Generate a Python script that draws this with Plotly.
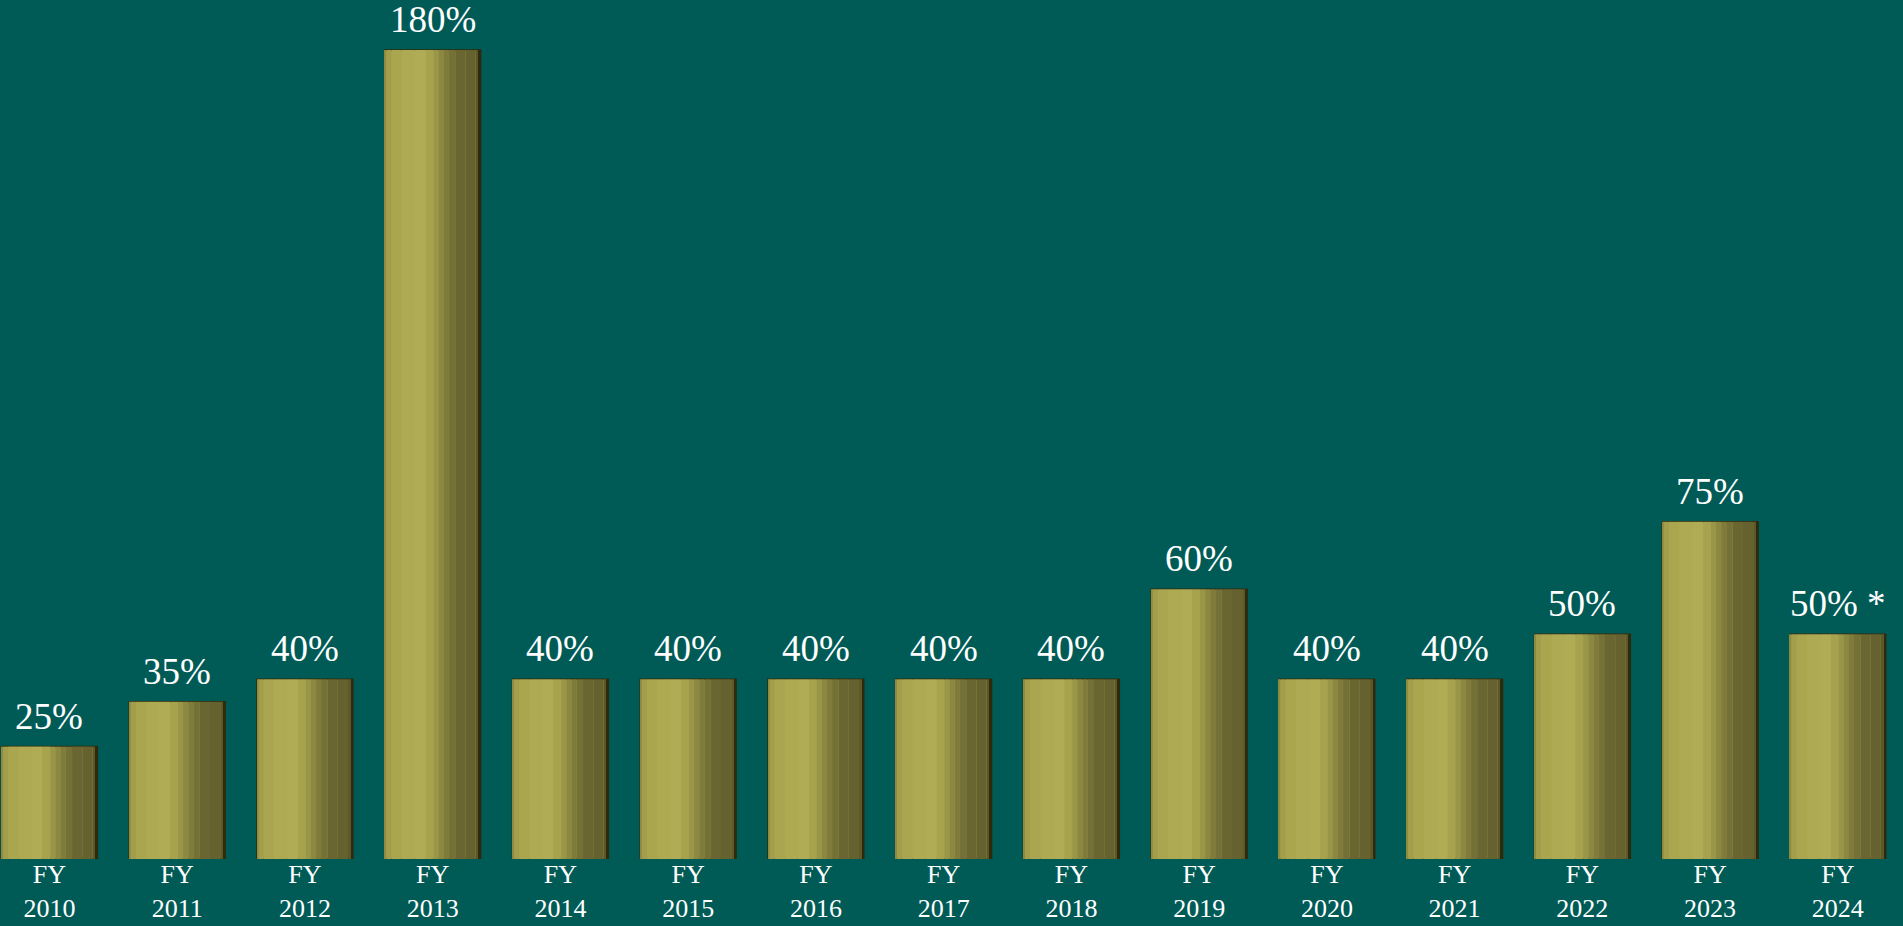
import plotly.graph_objects as go

years = ["2010", "2011", "2012", "2013", "2014", "2015", "2016", "2017",
         "2018", "2019", "2020", "2021", "2022", "2023", "2024"]
values = [25, 35, 40, 180, 40, 40, 40, 40, 40, 60, 40, 40, 50, 75, 50]
value_labels = ["25%", "35%", "40%", "180%", "40%", "40%", "40%", "40%",
                "40%", "60%", "40%", "40%", "50%", "75%", "50% *"]
tick_labels = ["FY<br>" + y for y in years]

BG = "#005B57"
FONT = "Liberation Serif, Times New Roman, serif"
BAR_W = 0.75

fig = go.Figure()

# base bar
fig.add_trace(go.Bar(
    x=years, y=values, width=BAR_W,
    marker=dict(color="#A9A54E", line=dict(color="#2E2A0C", width=1.5)),
    hoverinfo="skip", showlegend=False,
))

# shading strips to mimic the cylindrical gradient (style only)
strips = [
    (-0.375, 0.012, "#8E8A40"),
    (-0.363, 0.04, "#A29E4B"),
    (-0.323, 0.08, "#AAA64F"),
    (-0.243, 0.10, "#AEAA53"),
    (-0.143, 0.09, "#B0AC55"),
    (-0.053, 0.06, "#A6A24E"),
    (0.007, 0.04, "#9A9647"),
    (0.047, 0.04, "#8C8841"),
    (0.087, 0.04, "#7F7B3B"),
    (0.127, 0.05, "#747036"),
    (0.177, 0.08, "#6A6632"),
    (0.257, 0.08, "#66622F"),
    (0.337, 0.025, "#5C582A"),
    (0.362, 0.013, "#2E2A0C"),
]
for off, w, col in strips:
    fig.add_trace(go.Bar(
        x=years, y=values, width=w, offset=off,
        marker=dict(color=col, line=dict(width=0)),
        hoverinfo="skip", showlegend=False,
    ))

for i, (v, lab) in enumerate(zip(values, value_labels)):
    fig.add_annotation(
        x=i, y=v, xref="x", yref="y", text=lab, showarrow=False,
        yanchor="bottom", yshift=8,
        font=dict(family=FONT, size=37, color="#FFFFFF"),
    )

fig.update_layout(
    width=1903, height=926,
    barmode="overlay",
    paper_bgcolor=BG, plot_bgcolor=BG,
    margin=dict(l=0, r=0, t=0, b=67),
    showlegend=False,
    font=dict(family=FONT, color="white"),
    xaxis=dict(
        type="category", range=[-0.387, 14.51],
        tickvals=years, ticktext=tick_labels,
        tickfont=dict(family=FONT, size=26, color="white"),
        ticklabelstandoff=-3,
        showgrid=False, zeroline=False, showline=False, ticks="",
        fixedrange=True, automargin=False,
    ),
    yaxis=dict(
        range=[0, 191.1], visible=False, showgrid=False, zeroline=False,
        fixedrange=True, automargin=False,
    ),
    hovermode=False,
)

fig.write_html(
    "out.html",
    config={"displayModeBar": False},
    post_script="document.body.style.margin='0';document.body.style.overflow='hidden';",
)
